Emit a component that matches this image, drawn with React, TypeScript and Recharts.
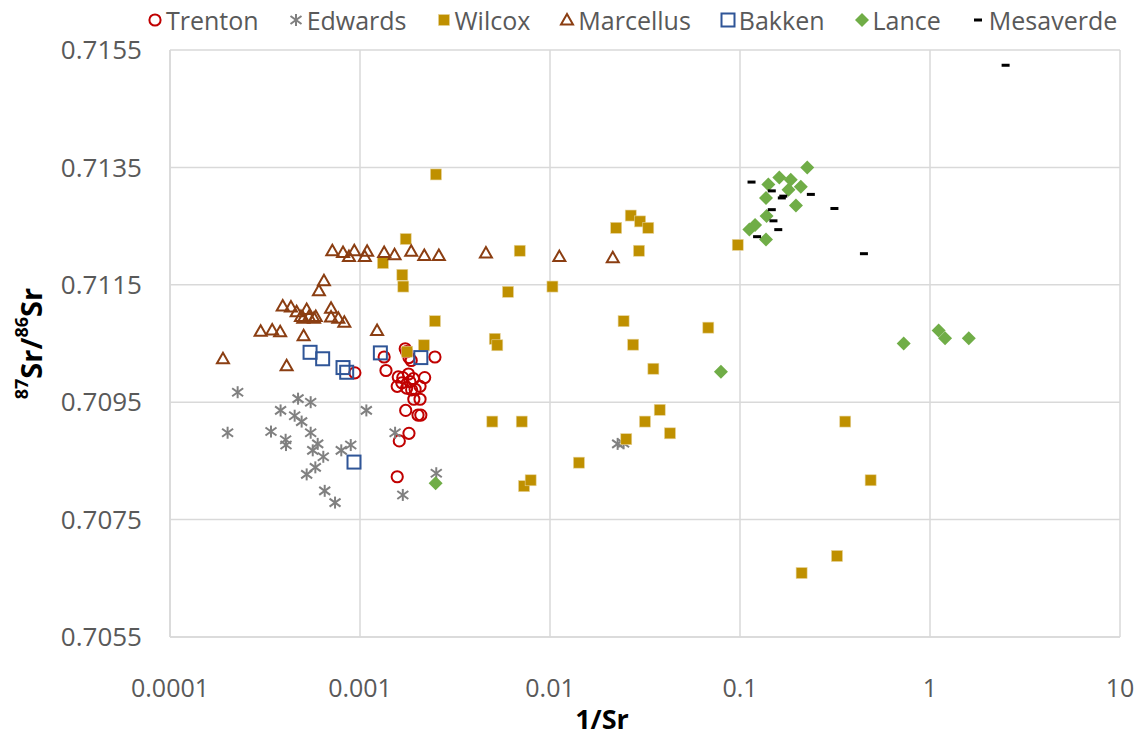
import React from "react";
import { ScatterChart, Scatter, XAxis, YAxis, CartesianGrid } from "recharts";

// [1/Sr, 87Sr/86Sr]
const trenton = [
  [0.00094, 0.71], [0.00134, 0.71027], [0.00137, 0.71004], [0.00157, 0.70823],
  [0.00157, 0.70977], [0.00159, 0.70993], [0.00161, 0.70884], [0.00166, 0.70983],
  [0.00168, 0.70992], [0.00173, 0.71041], [0.00176, 0.71036], [0.00176, 0.70974],
  [0.00174, 0.70936], [0.0018, 0.70998], [0.00181, 0.70897], [0.00181, 0.71026],
  [0.00183, 0.70985], [0.00186, 0.71021], [0.00187, 0.70971], [0.00191, 0.7099],
  [0.00192, 0.70955], [0.00195, 0.70972], [0.00202, 0.70928], [0.00207, 0.70977],
  [0.00207, 0.70955], [0.00209, 0.70928], [0.00219, 0.70992], [0.00248, 0.71027]
];

const edwards = [
  [0.000201, 0.70898], [0.000227, 0.70967], [0.00034, 0.709], [0.000382, 0.70936],
  [0.000406, 0.70886], [0.000408, 0.70877], [0.000453, 0.70927], [0.000472, 0.70956],
  [0.000493, 0.70917], [0.000524, 0.70827], [0.00055, 0.7095], [0.00055, 0.70898],
  [0.000564, 0.70868], [0.000582, 0.70839], [0.000599, 0.70879], [0.000641, 0.70857],
  [0.000652, 0.70799], [0.000739, 0.70779], [0.000797, 0.70868], [0.000894, 0.70877],
  [0.00108, 0.70936], [0.00153, 0.70898], [0.00168, 0.70792], [0.00252, 0.70829],
  [0.0227, 0.70879], [0.0244, 0.7088]
];

const wilcox = [
  [0.00132, 0.71187], [0.00167, 0.71167], [0.00169, 0.71147], [0.00174, 0.71228],
  [0.00177, 0.71036], [0.00217, 0.71047], [0.00248, 0.71088], [0.00251, 0.71338],
  [0.00497, 0.70917], [0.00512, 0.71058], [0.00528, 0.71047], [0.00601, 0.71138],
  [0.00693, 0.71208], [0.0071, 0.70917], [0.0073, 0.70807], [0.00791, 0.70817],
  [0.0103, 0.71147], [0.0142, 0.70847], [0.0223, 0.71247], [0.0244, 0.71088],
  [0.0252, 0.70887], [0.0266, 0.71268], [0.0274, 0.71048], [0.0294, 0.71208],
  [0.0298, 0.71258], [0.0316, 0.70917], [0.0329, 0.71247], [0.035, 0.71007],
  [0.0378, 0.70937], [0.0428, 0.70897], [0.0681, 0.71077], [0.0973, 0.71218],
  [0.211, 0.70659], [0.324, 0.70688], [0.358, 0.70917], [0.487, 0.70817]
];

const marcellus = [
  [0.00019, 0.71024], [0.0003, 0.71071], [0.000345, 0.71073], [0.00038, 0.7107],
  [0.000392, 0.71114], [0.000411, 0.71012], [0.000433, 0.71112], [0.000464, 0.71104],
  [0.000489, 0.71096], [0.000503, 0.71093], [0.000505, 0.71063], [0.000524, 0.71108],
  [0.000539, 0.71096], [0.000573, 0.71093], [0.000585, 0.71096], [0.000608, 0.7114],
  [0.000646, 0.71157], [0.000704, 0.7111], [0.000704, 0.71095], [0.000715, 0.71208],
  [0.000769, 0.71093], [0.000814, 0.71205], [0.000827, 0.71086], [0.000875, 0.71198],
  [0.000933, 0.71208], [0.00106, 0.71198], [0.00109, 0.71207], [0.00123, 0.71072],
  [0.00134, 0.71205], [0.00152, 0.71201], [0.00186, 0.71207], [0.00218, 0.712],
  [0.0026, 0.712], [0.0046, 0.71204], [0.0112, 0.71198], [0.0214, 0.71196]
];

const bakken = [
  [0.000546, 0.71035], [0.000636, 0.71024], [0.000814, 0.71009], [0.000851, 0.71001],
  [0.00093, 0.70848], [0.00128, 0.71034], [0.00209, 0.71026]
];

const lance = [
  [0.0025, 0.70812], [0.0794, 0.71002], [0.112, 0.71244], [0.12, 0.71252],
  [0.137, 0.71227], [0.138, 0.71267], [0.137, 0.71298], [0.141, 0.71321],
  [0.161, 0.71333], [0.18, 0.71312], [0.185, 0.71329], [0.197, 0.71285],
  [0.209, 0.71317], [0.226, 0.7135], [0.727, 0.7105], [1.11, 0.71072],
  [1.2, 0.71059], [1.6, 0.71059]
];

const mesaverde = [
  [0.115, 0.71325], [0.123, 0.71232], [0.147, 0.7131], [0.147, 0.71278],
  [0.15, 0.71259], [0.159, 0.71244], [0.166, 0.71298], [0.169, 0.71301],
  [0.236, 0.71304], [0.314, 0.7128], [0.449, 0.71203], [2.5, 0.71524]
];

const xTicks = [0.0001, 0.001, 0.01, 0.1, 1, 10];
const yTicks = [0.7055, 0.7075, 0.7095, 0.7115, 0.7135, 0.7155];

const FONT = "'Open Sans', sans-serif";
const TEXT = "#595959";
const GRID = "#d9d9d9";

const toPoints = (rows: number[][]) => rows.map(([x, y]) => ({ x, y }));

// marker glyphs, drawn around (cx, cy)
const OpenCircle = ({ cx, cy }: any) => (
  <circle cx={cx} cy={cy} r={5.6} fill="none" stroke="#C00000" strokeWidth={2} />
);

const Asterisk = ({ cx, cy }: any) => (
  <g stroke="#808080" strokeWidth={2}>
    <line x1={cx} y1={cy - 6} x2={cx} y2={cy + 6} />
    <line x1={cx - 5.5} y1={cy - 4} x2={cx + 5.5} y2={cy + 4} />
    <line x1={cx - 5.5} y1={cy + 4} x2={cx + 5.5} y2={cy - 4} />
  </g>
);

const FilledSquare = ({ cx, cy }: any) => (
  <rect x={cx - 5.5} y={cy - 5.5} width={11} height={11} fill="#BF9000" stroke="#e6d39a" strokeWidth={0.6} />
);

const OpenTriangle = ({ cx, cy }: any) => (
  <polygon
    points={`${cx},${cy - 6} ${cx + 6},${cy + 4.5} ${cx - 6},${cy + 4.5}`}
    fill="none"
    stroke="#8B3E12"
    strokeWidth={2}
  />
);

const OpenSquare = ({ cx, cy }: any) => (
  <rect x={cx - 6.5} y={cy - 6.5} width={13} height={13} fill="none" stroke="#2F5597" strokeWidth={2} />
);

const Diamond = ({ cx, cy }: any) => (
  <polygon points={`${cx},${cy - 7} ${cx + 7},${cy} ${cx},${cy + 7} ${cx - 7},${cy}`} fill="#70AD47" />
);

const Dash = ({ cx, cy }: any) => <rect x={cx - 4} y={cy - 1.5} width={8} height={3} fill="#000" />;

const series = [
  { name: "Trenton", data: trenton, Shape: OpenCircle },
  { name: "Edwards", data: edwards, Shape: Asterisk },
  { name: "Wilcox", data: wilcox, Shape: FilledSquare },
  { name: "Marcellus", data: marcellus, Shape: OpenTriangle },
  { name: "Bakken", data: bakken, Shape: OpenSquare },
  { name: "Lance", data: lance, Shape: Diamond },
  { name: "Mesaverde", data: mesaverde, Shape: Dash }
];

const YTitle = ({ viewBox }: any) => {
  const x = 30;
  const y = viewBox.y + viewBox.height / 2;
  return (
    <text
      x={x}
      y={y}
      transform={`rotate(-90, ${x}, ${y})`}
      textAnchor="middle"
      dominantBaseline="central"
      fontFamily={FONT}
      fontWeight={700}
      fontSize={29}
      fill="#000"
    >
      <tspan fontSize={18} dy={-9}>87</tspan>
      <tspan dy={9}>Sr/</tspan>
      <tspan fontSize={18} dy={-9}>86</tspan>
      <tspan dy={9}>Sr</tspan>
    </text>
  );
};

const XTitle = ({ viewBox }: any) => (
  <text
    x={viewBox.x + viewBox.width / 2 - 43}
    y={718}
    textAnchor="middle"
    dominantBaseline="central"
    fontFamily={FONT}
    fontWeight={700}
    fontSize={27}
    fill="#000"
  >
    1/Sr
  </text>
);

const LegendRow = () => (
  <div
    style={{
      position: "absolute",
      top: 3,
      left: 147,
      display: "flex",
      alignItems: "center",
      fontFamily: FONT,
      fontSize: 25,
      color: TEXT,
      whiteSpace: "nowrap"
    }}
  >
    {series.map(({ name, Shape }) => (
      <div key={name} style={{ display: "flex", alignItems: "center", marginRight: 29 }}>
        <svg width={16} height={16} style={{ marginRight: 3 }}>
          <Shape cx={8} cy={8} />
        </svg>
        <span>{name}</span>
      </div>
    ))}
  </div>
);

export default function App() {
  return (
    <div style={{ position: "absolute", left: 0, top: 0, width: 1134, height: 740, background: "#fff" }}>
      <ScatterChart width={1134} height={740} margin={{ top: 50, right: 14, bottom: 0, left: 0 }}>
        <CartesianGrid stroke={GRID} strokeWidth={1.5} />
        <XAxis
          type="number"
          dataKey="x"
          scale="log"
          domain={[0.0001, 10]}
          ticks={xTicks}
          allowDataOverflow
          height={103}
          stroke={GRID}
          strokeWidth={1.5}
          tickLine={false}
          tickSize={0}
          tickMargin={42}
          tick={{ fill: TEXT, fontSize: 25, fontFamily: FONT }}
          tickFormatter={(v: number) => String(v)}
          label={{ content: XTitle }}
        />
        <YAxis
          type="number"
          dataKey="y"
          domain={[0.7055, 0.7155]}
          ticks={yTicks}
          allowDataOverflow
          width={170}
          stroke={GRID}
          strokeWidth={1.5}
          tickLine={false}
          tickSize={0}
          tickMargin={28}
          tick={{ fill: TEXT, fontSize: 26, fontFamily: FONT }}
          tickFormatter={(v: number) => v.toFixed(4)}
          label={{ content: YTitle }}
        />
        {series.map(({ name, data, Shape }) => (
          <Scatter
            key={name}
            name={name}
            data={toPoints(data)}
            shape={(p: any) => <Shape cx={p.cx} cy={p.cy} />}
            isAnimationActive={false}
          />
        ))}
      </ScatterChart>
      <LegendRow />
    </div>
  );
}
